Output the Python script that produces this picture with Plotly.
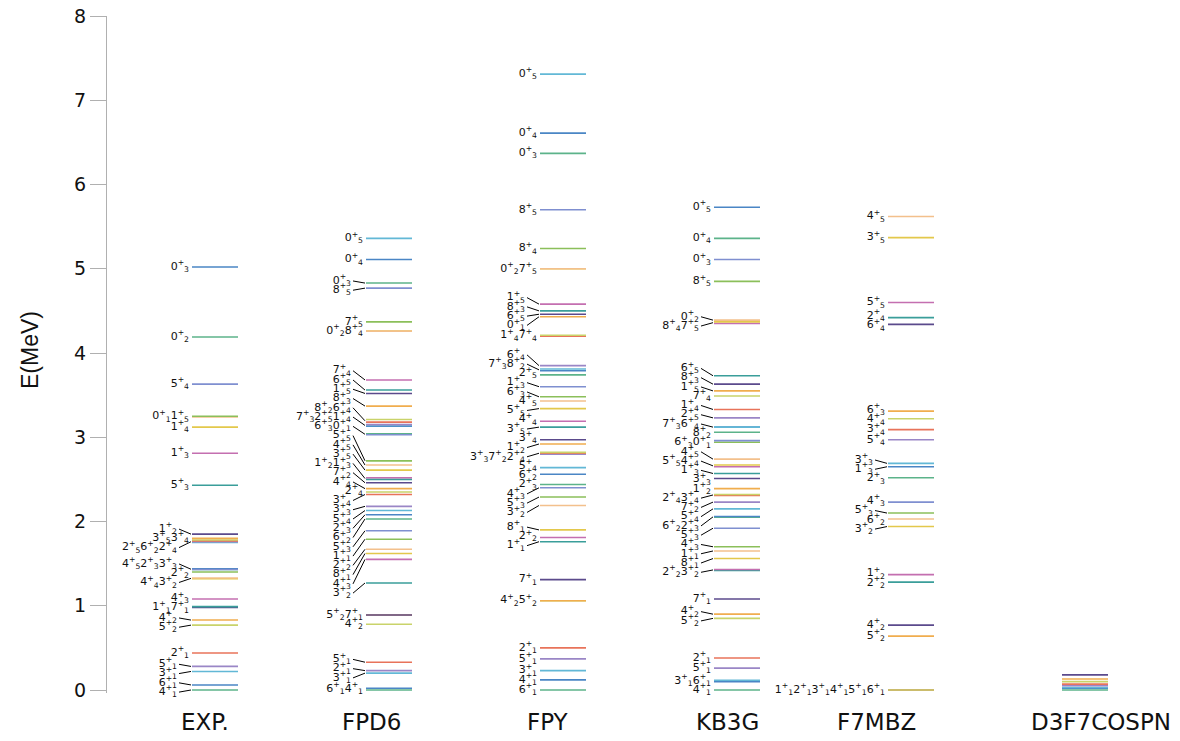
import plotly.graph_objects as go

# ---------------- data ----------------
models = ["EXP.", "FPD6", "FPY", "KB3G", "F7MBZ", "D3F7COSPN"]

exp_lbl = ["4_1", "6_1", "3_1", "5_1", "2_1", "5_2", "4_2", "7_1", "1_1", "4_3",
           "3_2", "4_4", "2_2", "2_3", "3_3", "4_5", "2_4", "6_2", "2_5", "3_4",
           "3_5", "1_2", "5_3", "1_3", "1_4", "1_5", "0_1", "5_4", "0_2", "0_3"]
exp_E = [0.00, 0.06, 0.22, 0.28, 0.44, 0.77, 0.83, 0.98, 0.99, 1.08,
         1.32, 1.33, 1.40, 1.43, 1.43, 1.44, 1.75, 1.76, 1.77, 1.78,
         1.80, 1.85, 2.43, 2.81, 3.12, 3.24, 3.25, 3.63, 4.19, 5.02]

fpd6_lbl = ["4_1", "6_1", "3_1", "2_1", "5_1", "4_2", "5_2", "7_1", "3_2", "4_3",
            "8_1", "2_2", "1_1", "5_3", "6_2", "2_3", "5_4", "3_3", "3_4", "2_4",
            "4_4", "7_2", "1_3", "1_2", "3_5", "4_5", "5_5", "0_1", "6_3", "1_4",
            "2_5", "7_3", "6_4", "8_2", "8_3", "1_5", "6_5", "7_4", "0_2", "8_4",
            "7_5", "8_5", "0_3", "0_4", "0_5"]
fpd6_E = [0.00, 0.02, 0.20, 0.23, 0.33, 0.78, 0.89, 0.89, 1.27, 1.55,
          1.62, 1.67, 1.79, 1.89, 2.03, 2.08, 2.13, 2.18, 2.32, 2.35,
          2.39, 2.46, 2.50, 2.52, 2.61, 2.67, 2.72, 3.03, 3.04, 3.13,
          3.14, 3.15, 3.18, 3.21, 3.37, 3.52, 3.56, 3.68, 4.26, 4.26,
          4.37, 4.77, 4.83, 5.11, 5.36]

fpy_lbl = ["6_1", "4_1", "3_1", "5_1", "2_1", "4_2", "5_2", "7_1", "1_1", "2_2",
           "8_1", "3_2", "5_3", "4_3", "2_3", "6_2", "5_4", "2_4", "7_2", "3_3",
           "1_2", "3_4", "3_5", "4_4", "5_5", "4_5", "6_3", "1_3", "2_5", "8_2",
           "7_3", "6_4", "7_4", "1_4", "0_1", "6_5", "8_3", "1_5", "0_2", "7_5",
           "8_4", "8_5", "0_3", "0_4", "0_5"]
fpy_E = [0.00, 0.12, 0.23, 0.37, 0.50, 1.06, 1.06, 1.31, 1.76, 1.81,
         1.90, 2.19, 2.29, 2.40, 2.44, 2.56, 2.64, 2.80, 2.81, 2.82,
         2.92, 2.97, 3.12, 3.19, 3.34, 3.43, 3.48, 3.60, 3.74, 3.79,
         3.81, 3.85, 4.20, 4.21, 4.43, 4.46, 4.50, 4.58, 5.00, 5.00,
         5.24, 5.70, 6.37, 6.61, 7.31]

kb3g_lbl = ["4_1", "6_1", "3_1", "5_1", "2_1", "5_2", "4_2", "7_1", "3_2", "2_2",
            "8_1", "1_1", "4_3", "5_3", "2_3", "6_2", "5_4", "7_2", "3_4", "2_4",
            "1_2", "3_3", "1_3", "4_4", "5_5", "4_5", "0_1", "6_3", "8_2", "7_3",
            "6_4", "2_5", "1_4", "7_4", "1_5", "8_3", "6_5", "7_5", "8_4", "0_2",
            "8_5", "0_3", "0_4", "0_5"]
kb3g_E = [0.00, 0.10, 0.115, 0.26, 0.38, 0.85, 0.90, 1.08, 1.42, 1.43,
          1.56, 1.65, 1.70, 1.92, 2.05, 2.06, 2.15, 2.23, 2.31, 2.32,
          2.39, 2.51, 2.57, 2.65, 2.67, 2.74, 2.94, 2.96, 3.06, 3.12,
          3.12, 3.23, 3.33, 3.49, 3.55, 3.63, 3.73, 4.35, 4.37, 4.39,
          4.85, 5.11, 5.36, 5.73]

f7mbz_lbl = ["1_1", "2_1", "3_1", "4_1", "5_1", "6_1", "5_2", "4_2", "2_2", "1_2",
             "3_2", "6_2", "5_3", "4_3", "2_3", "1_3", "3_3", "5_4", "3_4", "4_4",
             "6_3", "6_4", "2_4", "5_5", "3_5", "4_5"]
f7mbz_E = [0.00, 0.00, 0.00, 0.00, 0.00, 0.00, 0.64, 0.77, 1.28, 1.37,
           1.94, 2.03, 2.10, 2.23, 2.52, 2.65, 2.69, 2.97, 3.09, 3.22,
           3.31, 4.34, 4.42, 4.60, 5.37, 5.62]

d3f7_lbl = []  # levels drawn without labels in the reference
d3f7_E = [0.00, 0.02, 0.03, 0.05, 0.07, 0.10, 0.13, 0.18]

y_ticks = [0, 1, 2, 3, 4, 5, 6, 7, 8]

# ---------------- styling / layout parameters ----------------
palette = ["#5cb38a", "#4a86c5", "#62b8d6", "#9a86c6", "#e8735a", "#c9d36a",
           "#f0ad4e", "#5b4a8c", "#3a9e9a", "#c46fb0", "#e3c84b", "#f3c08c",
           "#8bbf5a", "#7f8fd0"]
PX_X = 174.0      # px per category unit
PX_Y = 84.25      # px per MeV
HALF = 23 / PX_X  # half length of a level line
GROUP_TOL = 0.03  # MeV: levels closer than this share one label row
GAP = 0.11        # MeV: minimal vertical spacing between label rows
label_off = [-10, -18, -15, -10, -35, 16]  # px offset of category names

columns = [(exp_lbl, exp_E), (fpd6_lbl, fpd6_E), (fpy_lbl, fpy_E),
           (kb3g_lbl, kb3g_E), (f7mbz_lbl, f7mbz_E), (d3f7_lbl, d3f7_E)]


def fmt(lbl):
    j, n = lbl.split("_")
    return f"{j}<sup>+</sup><sub>{n}</sub>"


def spread(targets, gap):
    blocks = []
    for t in targets:
        blocks.append([t])
        while len(blocks) > 1:
            a, b = blocks[-2], blocks[-1]
            sa = sum(a) / len(a) - gap * (len(a) - 1) / 2
            sb = sum(b) / len(b) - gap * (len(b) - 1) / 2
            if sb - (sa + gap * (len(a) - 1)) < gap:
                blocks[-2:] = [a + b]
            else:
                break
    pos = []
    for b in blocks:
        s = sum(b) / len(b) - gap * (len(b) - 1) / 2
        pos += [s + k * gap for k in range(len(b))]
    return pos


fig = go.Figure()

for ci, (lbls, Es) in enumerate(columns):
    x0, x1 = ci - HALF, ci + HALF
    segs = {}
    for k, e in enumerate(Es):
        col = palette[k % len(palette)]
        sx, sy = segs.setdefault(col, ([], []))
        sx += [x0, x1, None]
        sy += [e, e, None]
    for col, (sx, sy) in segs.items():
        fig.add_trace(go.Scatter(x=sx, y=sy, mode="lines",
                                 line=dict(color=col, width=1.6),
                                 hoverinfo="skip", showlegend=False))
    if not lbls:
        continue
    order = sorted(range(len(Es)), key=lambda k: Es[k])
    groups = []
    for k in order:
        if groups and Es[k] - Es[groups[-1][0]] < GROUP_TOL:
            groups[-1].append(k)
        else:
            groups.append([k])
    gy = [sum(Es[k] for k in g) / len(g) for g in groups]
    ly = spread(gy, GAP)
    tx, ty, tt = [], [], []
    cx, cy = [], []
    for g, yg, yl in zip(groups, gy, ly):
        text = "".join(fmt(lbls[k]) for k in sorted(g, key=lambda k: -Es[k]))
        if abs(yl - yg) * PX_Y > 1.8:
            xa = x0 - 15 / PX_X
            cx += [x0 - 13 / PX_X, x0 - 1 / PX_X, None]
            cy += [yl, yg, None]
        else:
            xa = x0 - 3 / PX_X
        tx.append(xa)
        ty.append(yl)
        tt.append(text)
    if cx:
        fig.add_trace(go.Scatter(x=cx, y=cy, mode="lines",
                                 line=dict(color="black", width=1),
                                 hoverinfo="skip", showlegend=False))
    fig.add_trace(go.Scatter(x=tx, y=ty, text=tt, mode="text",
                             textposition="middle left", cliponaxis=False,
                             textfont=dict(family="DejaVu Sans", size=11,
                                           color="#111111"),
                             hoverinfo="skip", showlegend=False))

plot_top, plot_bot, plot_left, plot_w = 16, 693, 107, 1073
annotations = []
for ci, name in enumerate(models):
    annotations.append(dict(x=ci + label_off[ci] / PX_X, y=0, xref="x",
                            yref="paper", yanchor="middle", yshift=-29,
                            text=name, showarrow=False,
                            font=dict(family="DejaVu Sans", size=23,
                                      color="#111111")))
annotations.append(dict(x=(30 - plot_left) / plot_w,
                        y=(plot_bot - 350) / (plot_bot - plot_top),
                        xref="paper", yref="paper", text="E(MeV)",
                        textangle=-90, showarrow=False, xanchor="center",
                        yanchor="middle",
                        font=dict(family="Liberation Sans Narrow, Liberation Sans",
                                  size=23, color="#111111")))

ymin = -(plot_bot - plot_top - 8 * PX_Y) / PX_Y
fig.update_layout(
    width=1180, height=741,
    margin=dict(l=plot_left, r=0, t=plot_top, b=741 - plot_bot, pad=0),
    plot_bgcolor="white", paper_bgcolor="white",
    showlegend=False,
    annotations=annotations,
    xaxis=dict(range=[-108 / PX_X, 965 / PX_X], showgrid=False,
               zeroline=False, showticklabels=False, showline=False,
               ticks=""),
    yaxis=dict(range=[ymin, 8], tickvals=y_ticks, showgrid=False,
               zeroline=False, showline=True, linecolor="#b0b0b0",
               linewidth=1, ticks="outside", ticklen=16,
               tickcolor="#b0b0b0",
               tickfont=dict(family="DejaVu Sans", size=19, color="#111111")),
)

fig.write_html("out.html", config={"displayModeBar": False},
               post_script="document.body.style.margin='0px';"
                           "document.body.style.overflow='hidden';")
